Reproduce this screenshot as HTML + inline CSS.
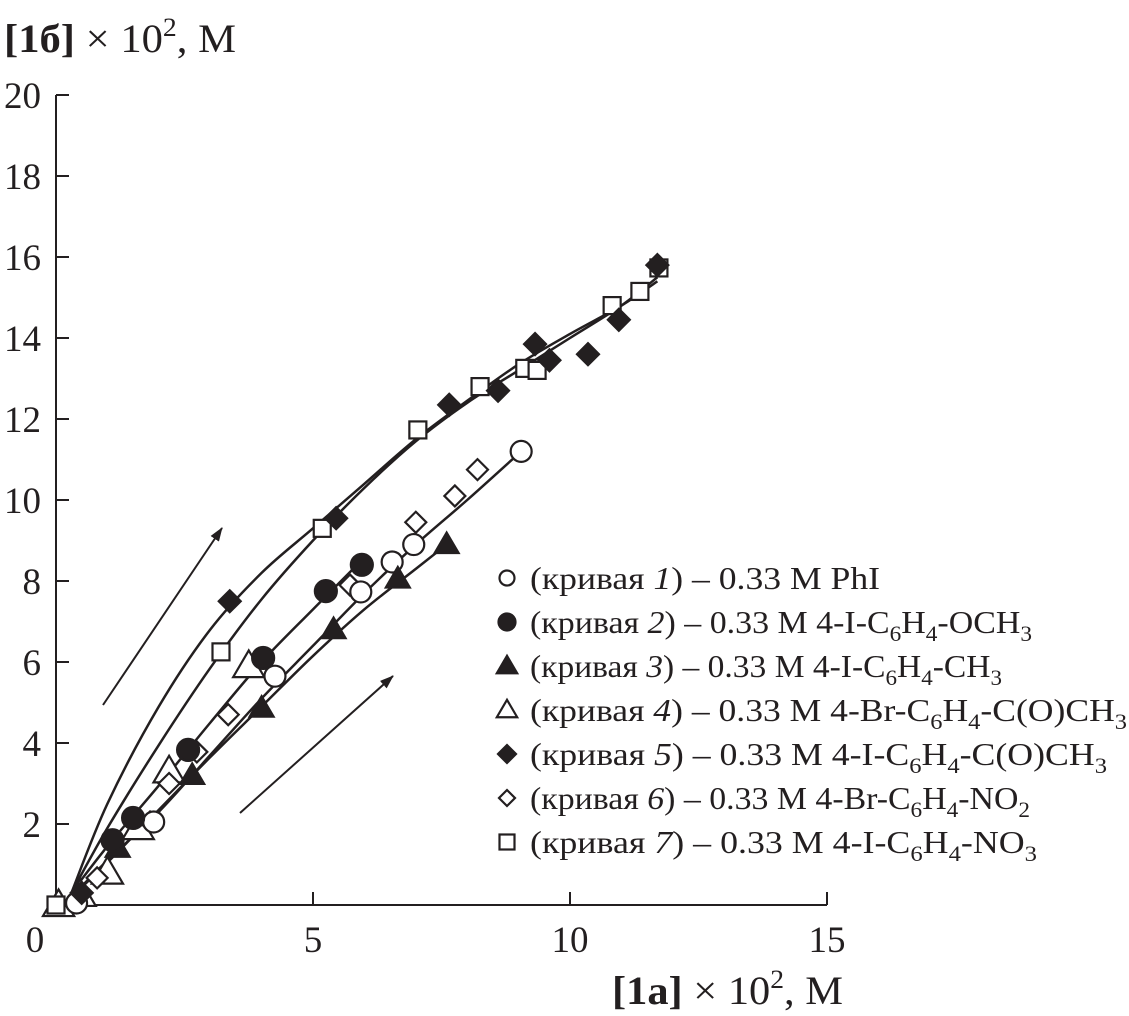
<!DOCTYPE html>
<html><head><meta charset="utf-8">
<style>
html,body{margin:0;padding:0;background:#fff;}
svg{display:block;font-family:"Liberation Serif",serif;}
</style></head>
<body>
<svg id="chart" width="1129" height="1016" viewBox="0 0 1129 1016" xmlns="http://www.w3.org/2000/svg">
<text x="4" y="52" font-size="40" fill="#231f20" textLength="232" lengthAdjust="spacingAndGlyphs"><tspan font-weight="bold">[1б]</tspan> × 10<tspan dy="-16" font-size="26">2</tspan><tspan dy="16">, М</tspan></text>
<text x="612" y="1004" font-size="40" fill="#231f20" textLength="231" lengthAdjust="spacingAndGlyphs"><tspan font-weight="bold">[1a]</tspan> × 10<tspan dy="-16" font-size="26">2</tspan><tspan dy="16">, М</tspan></text>
<g id="axes"></g>
<g id="curves"></g>
<g id="marks"></g>
<g id="legend"></g>
<g id="arrows">
<defs><marker id="ah" markerWidth="14" markerHeight="12" refX="13" refY="6" orient="auto" markerUnits="userSpaceOnUse" viewBox="0 0 14 12"><path d="M0,1 L14,6 L0,11 Z" fill="#231f20"/></marker></defs>
<line x1="103" y1="705" x2="222" y2="528" stroke="#231f20" stroke-width="2" marker-end="url(#ah)"/>
<line x1="240" y1="813" x2="393" y2="676" stroke="#231f20" stroke-width="2" marker-end="url(#ah)"/>
</g>
</svg>
<script>
const xTicks = [0, 5, 10, 15];
const yTicks = [2, 4, 6, 8, 10, 12, 14, 16, 18, 20];
const s1x = [0.4, 1.9, 4.26, 5.93, 6.54, 6.96, 9.05];
const s1y = [0.05, 2.05, 5.65, 7.73, 8.47, 8.9, 11.2];
const s2x = [1.1, 1.5, 2.57, 4.03, 5.25, 5.95];
const s2y = [1.6, 2.15, 3.83, 6.1, 7.75, 8.4];
const s3x = [1.2, 2.65, 4.0, 5.4, 6.65, 7.6];
const s3y = [1.4, 3.2, 4.86, 6.8, 8.05, 8.9];
const s4x = [0.05, 0.47, 1.0, 1.6, 2.2, 3.75];
const s4y = [0.0, 0.25, 0.8, 1.9, 3.3, 5.9];
const s5x = [0.5, 3.38, 5.45, 7.65, 8.6, 9.32, 9.6, 10.35, 10.95, 11.7];
const s5y = [0.3, 7.5, 9.55, 12.35, 12.7, 13.85, 13.45, 13.6, 14.45, 15.8];
const s6x = [0.8, 1.83, 2.2, 2.74, 3.35, 5.72, 7.0, 7.76, 8.2];
const s6y = [0.67, 2.05, 3.0, 3.78, 4.7, 7.9, 9.45, 10.1, 10.75];
const s7x = [0.0, 3.21, 5.18, 7.04, 8.25, 9.12, 9.36, 10.82, 11.36, 11.73];
const s7y = [0.0, 6.25, 9.3, 11.73, 12.8, 13.25, 13.2, 14.8, 15.15, 15.73];
const c5x = [0.3, 1, 2, 3, 4, 5, 6, 7, 8, 9, 10, 11, 11.7];
const c5y = [0.3, 2.5, 4.9, 6.8, 8.2, 9.3, 10.4, 11.5, 12.45, 13.35, 14.1, 14.8, 15.4];
const c7x = [0.3, 1, 2, 3, 4, 5, 6, 7, 8, 9, 10, 11, 11.7];
const c7y = [0.3, 1.9, 3.95, 5.85, 7.55, 9.0, 10.3, 11.45, 12.4, 13.2, 14.0, 14.8, 15.5];
const c2x = [0.3, 1, 2, 3, 4, 5, 5.9];
const c2y = [0.3, 1.45, 2.95, 4.5, 6.0, 7.3, 8.45];
const c1x = [0.3, 1, 2, 3, 4, 5, 6, 7, 8, 9.05];
const c1y = [0.2, 1.1, 2.3, 3.7, 5.1, 6.4, 7.7, 8.9, 10.0, 11.2];
const c3x = [0.3, 1, 2, 3, 4, 5, 6, 7, 7.6];
const c3y = [0.2, 1.05, 2.35, 3.65, 4.9, 6.15, 7.3, 8.3, 8.9];
const sub = n => `<tspan dy="8" font-size="22">${n}</tspan><tspan dy="-8">`;
const legendLabels = [
 ['1','PhI'],
 ['2','4-I-C'+sub(6)+'H</tspan>'+sub(4)+'-OCH</tspan>'+sub(3)+'</tspan>'],
 ['3','4-I-C'+sub(6)+'H</tspan>'+sub(4)+'-CH</tspan>'+sub(3)+'</tspan>'],
 ['4','4-Br-C'+sub(6)+'H</tspan>'+sub(4)+'-C(O)CH</tspan>'+sub(3)+'</tspan>'],
 ['5','4-I-C'+sub(6)+'H</tspan>'+sub(4)+'-C(O)CH</tspan>'+sub(3)+'</tspan>'],
 ['6','4-Br-C'+sub(6)+'H</tspan>'+sub(4)+'-NO</tspan>'+sub(2)+'</tspan>'],
 ['7','4-I-C'+sub(6)+'H</tspan>'+sub(4)+'-NO</tspan>'+sub(3)+'</tspan>']
];
const legendEnds = [880, 1032, 1002, 1127, 1107, 1030, 1037];
const NS = 'http://www.w3.org/2000/svg';
const C = '#231f20';
const sx = v => 56 + v * 51.4;
const sy = v => 905 - v * 40.5;
function mk(tag, attrs, parent){const e=document.createElementNS(NS,tag);for(const k in attrs)e.setAttribute(k,attrs[k]);parent.appendChild(e);return e;}
const axes = document.getElementById('axes');
let a = mk('path',{d:`M${sx(0)},${sy(20)} H${sx(0)+13} M${sx(0)},${sy(20)} V${sy(0)} H${sx(15)}`,fill:'none',stroke:C,'stroke-width':2},axes);


xTicks.forEach(t=>{
  if(t>0){const l=mk('line',{x1:sx(t),x2:sx(t),y1:sy(0),y2:sy(0)-13,stroke:C,'stroke-width':2},axes);
  
  }
  const tx=mk('text',{x:t===0?35:sx(t),y:952,'font-size':37,'text-anchor':'middle',fill:C},axes);tx.textContent=t;
  
  
});
yTicks.forEach(t=>{
  const l=mk('line',{x1:sx(0),x2:sx(0)+13,y1:sy(t),y2:sy(t),stroke:C,'stroke-width':2},axes);
  
  
  const tx=mk('text',{x:41,y:sy(t)+13,'font-size':37,'text-anchor':'end',fill:C},axes);tx.textContent=t;
  
  
});
function smooth(xs,ys){
  const p=xs.map((x,i)=>[sx(x),sy(ys[i])]);let d=`M${p[0][0]},${p[0][1]}`;
  for(let i=0;i<p.length-1;i++){const p0=p[i-1]||p[i],p1=p[i],p2=p[i+1],p3=p[i+2]||p2;
    d+=` C${p1[0]+(p2[0]-p0[0])/6},${p1[1]+(p2[1]-p0[1])/6} ${p2[0]-(p3[0]-p1[0])/6},${p2[1]-(p3[1]-p1[1])/6} ${p2[0]},${p2[1]}`;}
  return d;}
const curves=document.getElementById('curves');
[[c5x,c5y,'curve-5'],[c7x,c7y,'curve-7'],[c2x,c2y,'curve-2'],[c1x,c1y,'curve-1'],[c3x,c3y,'curve-3']].forEach(c=>{
  const p=mk('path',{d:smooth(c[0],c[1]),fill:'none',stroke:C,'stroke-width':2.5},curves);
  
  
});
function marker(type,x,y,parent,r){
  let e;
  if(type==='circle'||type==='fcircle') e=mk('circle',{cx:x,cy:y,r:r},parent);
  if(type==='tri'||type==='ftri') e=mk('path',{d:`M${x},${y-r*1.2} L${x+r*1.2},${y+r*0.85} L${x-r*1.2},${y+r*0.85} Z`},parent);
  if(type==='dia'||type==='fdia') e=mk('path',{d:`M${x},${y-r} L${x+r},${y} L${x},${y+r} L${x-r},${y} Z`},parent);
  if(type==='sq') e=mk('rect',{x:x-r,y:y-r,width:2*r,height:2*r},parent);
  const filled=type[0]==='f';
  e.setAttribute('fill',filled?C:'#fff');e.setAttribute('stroke',C);e.setAttribute('stroke-width',2.2);
  return e;}
const marks=document.getElementById('marks');
const series=[[s4x,s4y,'tri',13],[s6x,s6y,'dia',10.5],[s1x,s1y,'circle',10.5],[s7x,s7y,'sq',8.5],[s3x,s3y,'ftri',10],[s2x,s2y,'fcircle',11],[s5x,s5y,'fdia',11]];
series.forEach(s=>{
  s[0].forEach((x,i)=>{const m=marker(s[2],sx(x),sy(s[1][i]),marks,s[3]);
    
    });
});
const legend=document.getElementById('legend');
const lt=['circle','fcircle','ftri','tri','fdia','dia','sq'];
const lr=[7.5,8.5,8.5,8.5,9,8,7.5];
legendLabels.forEach((l,i)=>{
  const y=578+i*44;
  const m=marker(lt[i],507,y,legend,lr[i]);
  
  
  const t=document.createElementNS(NS,'text');
  t.setAttribute('x',530);t.setAttribute('y',y+11);t.setAttribute('font-size',32);t.setAttribute('fill',C);
  t.setAttribute('textLength',legendEnds[i]-530);t.setAttribute('lengthAdjust','spacingAndGlyphs');
  t.innerHTML=`(кривая <tspan font-style="italic">${l[0]}</tspan>) – 0.33 М ${l[1]}`;
  
  
  legend.appendChild(t);
});
</script>
</body></html>
